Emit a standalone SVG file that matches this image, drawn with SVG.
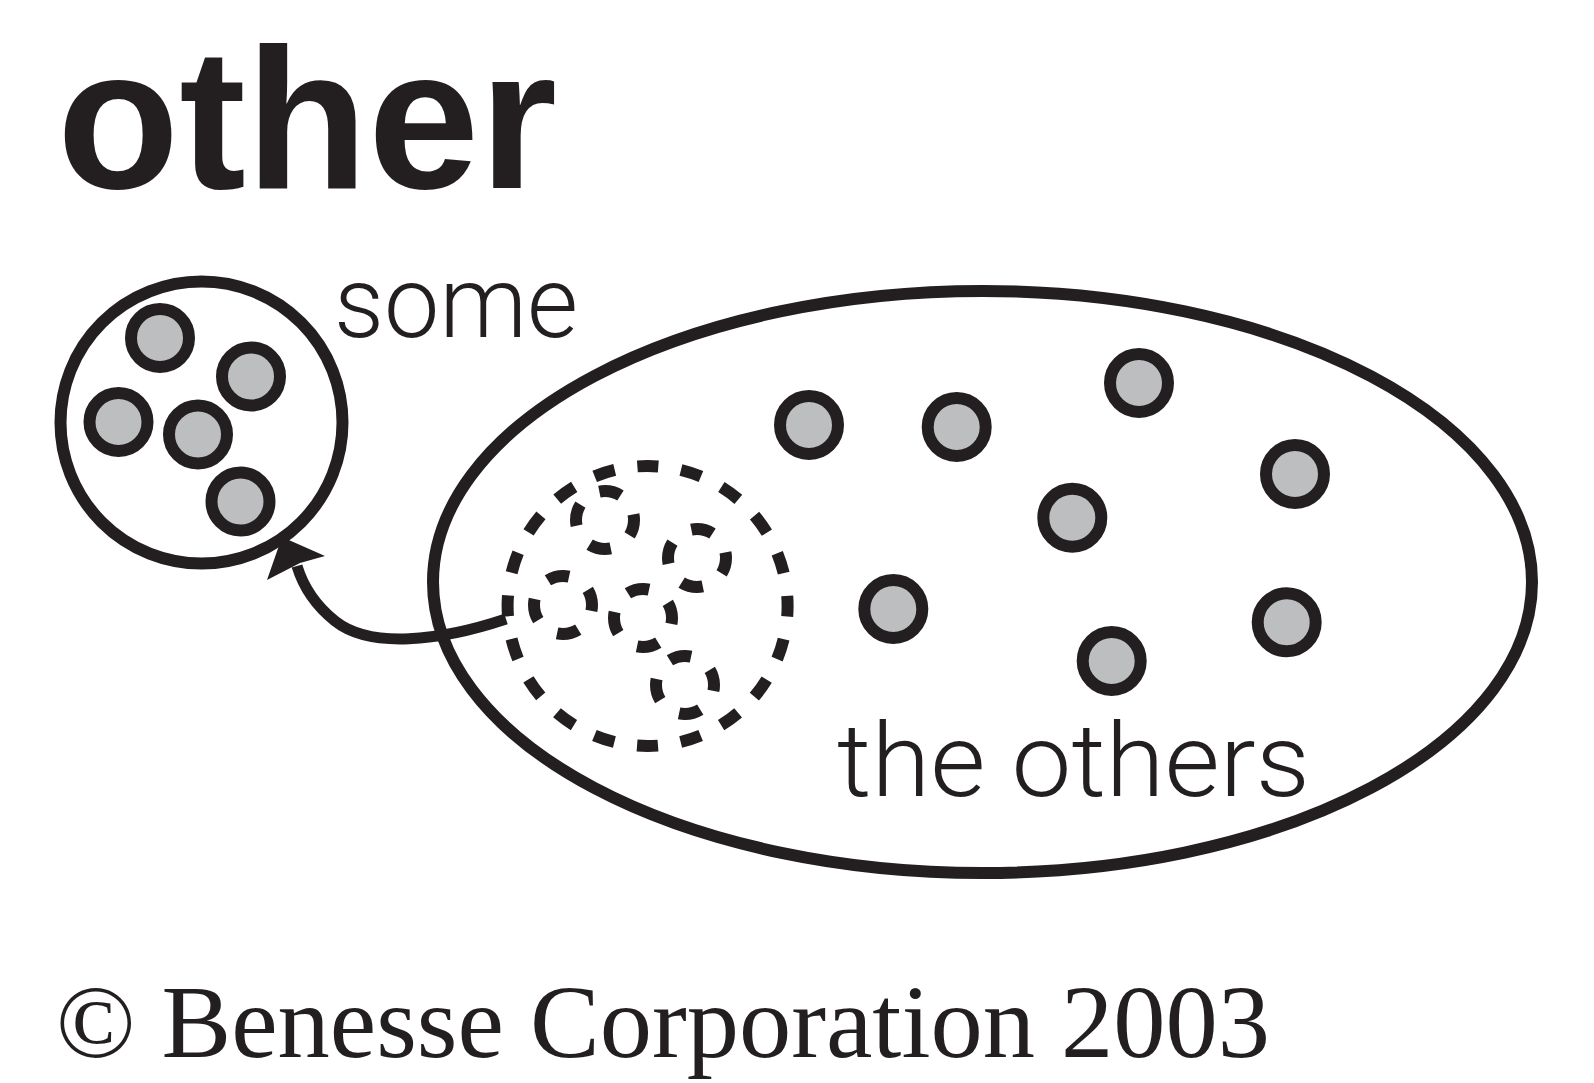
<svg xmlns="http://www.w3.org/2000/svg" width="1594" height="1083" viewBox="0 0 1594 1083">
<style>
.ink{fill:none;stroke:#231f20;stroke-width:12}
.dot{fill:#bcbec0;stroke:#231f20;stroke-width:12}
.dash{fill:none;stroke:#231f20;stroke-width:12}
.big{stroke-dasharray:21 22.98;stroke-dashoffset:10.5}
.sm{stroke-dasharray:22 23.55}
.a{stroke-dashoffset:5.9}
.b{stroke-dashoffset:16.1}
.thin{font-family:Roboto,"Open Sans","DejaVu Sans",sans-serif;font-weight:300;fill:#231f20}
</style>
<rect width="1594" height="1083" fill="#fff"/>
<text x="57" y="188" font-family="'Liberation Sans',Arial,sans-serif" font-weight="bold" font-size="200" fill="#231f20">other</text>
<g id="some">
<circle class="ink" cx="201.5" cy="422.5" r="141"/>
<circle class="dot" cx="160" cy="338" r="29"/>
<circle class="dot" cx="251" cy="376.5" r="29"/>
<circle class="dot" cx="118.5" cy="422" r="29"/>
<circle class="dot" cx="198" cy="434.5" r="29"/>
<circle class="dot" cx="240.5" cy="501.5" r="29"/>
<text class="thin" x="334" y="337" font-size="101" textLength="244" lengthAdjust="spacingAndGlyphs">some</text>
</g>
<g id="others">
<ellipse class="ink" cx="982.5" cy="582" rx="549.5" ry="291"/>
<circle class="dot" cx="809" cy="425" r="29"/>
<circle class="dot" cx="956.7" cy="427" r="29"/>
<circle class="dot" cx="1139" cy="383" r="29"/>
<circle class="dot" cx="1295" cy="474" r="29"/>
<circle class="dot" cx="1072.3" cy="517.7" r="29"/>
<circle class="dot" cx="893.3" cy="609" r="29"/>
<circle class="dot" cx="1111.7" cy="661" r="29"/>
<circle class="dot" cx="1286.7" cy="622.3" r="29"/>
<text class="thin" x="837" y="796" font-size="102" textLength="473" lengthAdjust="spacingAndGlyphs">the others</text>
</g>
<g id="moved">
<circle class="dash big" cx="647.6" cy="606" r="140"/>
<circle class="dash sm a" cx="605" cy="520" r="29"/>
<circle class="dash sm a" cx="697" cy="558" r="29"/>
<circle class="dash sm b" cx="563" cy="605" r="29"/>
<circle class="dash sm b" cx="643" cy="618" r="29"/>
<circle class="dash sm b" cx="685" cy="685" r="29"/>
</g>
<g id="connectors">
<path d="M506 619 C440 641 370 649 335 621 C315 605 303 586 297 566" fill="none" stroke="#231f20" stroke-width="11"/>
<polygon points="282,537 325,556 300,563 267,580" fill="#231f20"/>
</g>
<text x="56" y="1057" font-family="'Liberation Serif','Times New Roman',serif" font-size="104" fill="#231f20" textLength="1214" lengthAdjust="spacingAndGlyphs">© Benesse Corporation 2003</text>
</svg>
